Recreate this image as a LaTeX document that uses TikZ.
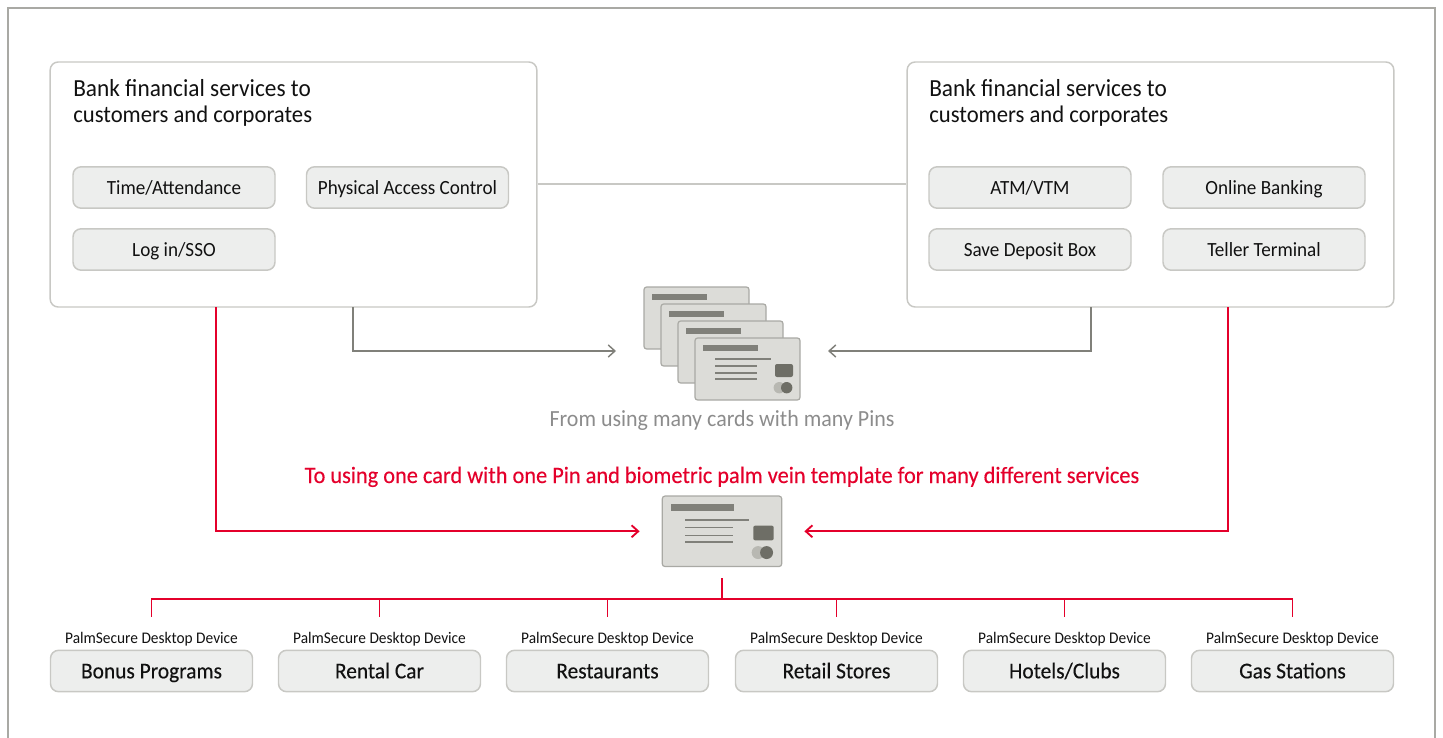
\documentclass[tikz,border=0pt]{standalone}
\usepackage{fontspec}
\setmainfont[FakeStretch=0.95]{Carlito}
\newfontfamily\medfont[FakeStretch=0.95,FakeBold=0.25]{Carlito}
\usetikzlibrary{arrows.meta}
\definecolor{framegray}{HTML}{A9A9A4}
\definecolor{edgegray}{HTML}{C8C8C4}
\definecolor{btnfill}{HTML}{EDEEED}
\definecolor{linegray}{HTML}{80807A}
\definecolor{cardfill}{HTML}{DCDCD8}
\definecolor{carddark}{HTML}{6E6E66}
\definecolor{cardlight}{HTML}{B8B8B2}
\definecolor{fjred}{HTML}{E4002B}
\definecolor{inkgray}{HTML}{8C8C8C}
\definecolor{inkblack}{HTML}{111111}
\tikzset{
  bigbox/.style={draw=edgegray, line width=1.1pt, fill=white, rounded corners=6pt,
    minimum width=365pt, minimum height=183.75pt, inner sep=0pt},
  button/.style={draw=edgegray, line width=1.1pt, fill=btnfill, rounded corners=6pt,
    minimum width=151.5pt, minimum height=31pt, inner sep=0pt, text=inkblack,
    text height=13pt, text depth=3pt, font=\fontsize{15.1}{16}\selectfont},
  service/.style={button, text height=14pt, font=\medfont\fontsize{16.9}{18}\selectfont},
  title/.style={anchor=north west, align=left, inner sep=0pt, text=inkblack,
    font=\fontsize{18.4}{19.5}\selectfont},
  devicelabel/.style={inner sep=0pt, text=inkblack, text height=10.5pt, text depth=2.5pt,
    font=\fontsize{12.14}{14}\selectfont},
  grayline/.style={draw=linegray, line width=1.1pt},
  redline/.style={draw=fjred, line width=1.4pt},
  barb/.style={-{Straight Barb[length=5pt,width=9pt]}},
  cardbody/.style={draw=framegray, line width=0.9pt, fill=cardfill, rounded corners=2pt,
    minimum width=78.75pt, minimum height=46.5pt, inner sep=0pt, transform shape},
  bankcard/.pic={
    \node[cardbody] (-body) at (0,0) {};
    \fill[linegray] (-44.5,-23.7) rectangle (10.5,-18);
    \draw[linegray, line width=1.3pt] (-32.5,-10) -- (23.5,-10);
    \foreach \y in {-3.3,3.7,9.7} {%
      \draw[linegray, line width=1.3pt] (-32.5,\y) -- (9.5,\y);
    }
    \fill[carddark, rounded corners=1.5pt] (27.5,-5) rectangle (45.5,8);
    \fill[cardlight] (31.8,18.7) circle[radius=5.7];
    \fill[carddark] (39.2,18.7) circle[radius=5.7];
  }
}
\newcommand{\secondline}{\fontsize{17.9}{19.5}\selectfont customers and corporates}
\begin{document}
\begin{tikzpicture}[x=0.75pt, y=-0.75pt]
    \useasboundingbox (0,0) rectangle (1443,738);
    \draw[framegray, line width=1.5pt] (8,738) -- (8,8) -- (1435,8) -- (1435,738);

    \node[bigbox] (bankL) at (293.5,184.5) {};
    \node[bigbox] (bankR) at (1150.5,184.5) {};
    \draw[edgegray, line width=1.5pt] (bankL) -- (bankR);

    \node[title] (titleL) at (73,79) {Bank financial services to\\\secondline};
    \node[title] (titleR) at (929,79) {Bank financial services to\\\secondline};

    \node[button] (time) at (174,187.5) {Time/Attendance};
    \node[button] (access) at (407.5,187.5) {Physical Access Control};
    \node[button] (login) at (174,249.5) {Log in/SSO};
    \node[button] (atm) at (1030,187.5) {ATM/VTM};
    \node[button] (online) at (1264,187.5) {Online Banking};
    \node[button] (deposit) at (1030,249.5) {Save Deposit Box};
    \node[button] (teller) at (1264,249.5) {Teller Terminal};

    \foreach \name/\x/\y in {stackA/696.5/318, stackB/713.5/335, stackC/730.5/352, stackD/747.5/369} {%
      \pic (\name) at (\x,\y) {bankcard};
    }
    \pic[scale=1.137] (one) at (722,531.3) {bankcard};

    \coordinate (grayLtop) at (353,307);
    \coordinate (grayLend) at (616,351);
    \coordinate (grayRtop) at (1091,307);
    \coordinate (grayRend) at (828,351);
    \draw[grayline, barb] (grayLtop) |- (grayLend);
    \draw[grayline, barb] (grayRtop) |- (grayRend);

    \node[text=inkgray, inner sep=0pt, anchor=base, font=\fontsize{17.34}{20}\selectfont] (fromtext) at (722,426)
      {From using many cards with many Pins};
    \node[text=fjred, inner sep=0pt, anchor=base, font=\medfont\fontsize{17.64}{20}\selectfont] (totext) at (722,483)
      {To using one card with one Pin and biometric palm vein template for many different services};

    \coordinate (redLtop) at (216,307);
    \coordinate (redRtop) at (1228,307);
    \draw[redline, barb, shorten >=16.5pt] (redLtop) |- (one-body.west);
    \draw[redline, barb, shorten >=16.5pt] (redRtop) |- (one-body.east);

    \node[service] (bonus) at (151.5,671) {Bonus Programs};
    \node[service] (rental) at (379.5,671) {Rental Car};
    \node[service] (rest) at (607.5,671) {Restaurants};
    \node[service] (retail) at (836.5,671) {Retail Stores};
    \node[service] (hotels) at (1064.5,671) {Hotels/Clubs};
    \node[service] (gas) at (1292.5,671) {Gas Stations};

    \coordinate (bus) at (722,599);
    \draw[redline, shorten <=8.2pt] (one-body.south) -- (bus);
    \foreach \svc in {bonus, rental, rest, retail, hotels, gas} {%
      \node[devicelabel] (\svc label) at (\svc.center |- 0,638) {PalmSecure Desktop Device};
      \coordinate (\svc drop) at (\svc.center |- 0,617);
      \draw[redline] (bus) -| (\svc drop);
    }
  \end{tikzpicture}
\end{document}
